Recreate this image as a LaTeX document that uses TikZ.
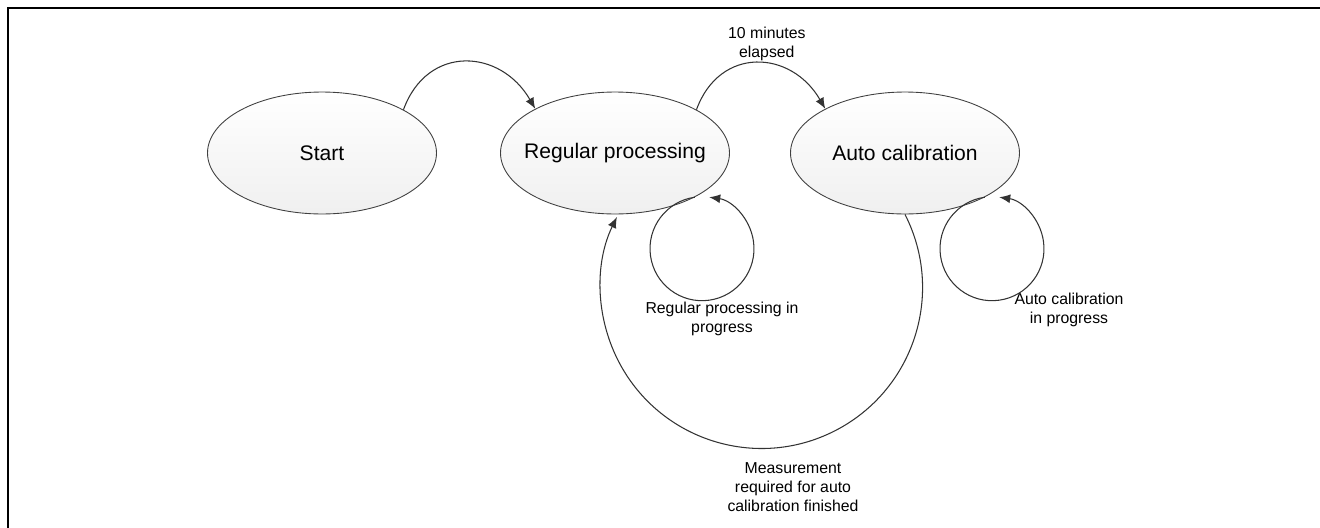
\documentclass[tikz,border=0pt]{standalone}
\usepackage{fontspec}
\setmainfont{Liberation Sans}
\usepackage{tikz}
\usetikzlibrary{arrows.meta,positioning,shapes.geometric}

\tikzset{
	phase/.style={ellipse,draw=black!75,line width=0.5pt,top color=white,bottom color=black!6,
		minimum width=4.58cm,minimum height=2.44cm,inner sep=0pt},
	note/.style={font=\fontsize{9}{10.8}\selectfont,align=center,inner sep=1pt},
	link/.style={draw=black!80,line width=0.6pt,-{Latex[length=2.2mm,width=1.8mm]}}
}

\begin{document}
\begin{tikzpicture}[x=0.02cm,y=0.02cm,font=\fontsize{12}{14}\selectfont]
\useasboundingbox (0,0) rectangle (1320,-528);
\draw[line width=1.1pt] (8,-528) -- (8,-8) -- (1320,-8);

\begin{scope}
	\node[phase,label=center:Start] (start) at (322,-153) {};
	\node[phase,label=center:Regular processing] (regular) at (615,-153) {};
	\node[phase,label=center:Auto calibration] (autocal) at (905,-153) {};

	\node[note] (regnote) at (722,-319) {Regular processing in\\progress};
	\node[note] (autonote) at (1069,-310) {Auto calibration\\in progress};
	\node[note] (measnote) at (793,-487) {Measurement\\required for auto\\calibration finished};
\end{scope}

\begin{scope}
	\draw[link] (start.28) to[out=70,in=120,looseness=1.35] (regular.151);
	\draw[link] (regular.28) to[out=70,in=120,looseness=1.35]
		node[note,above,xshift=0.2cm] {10 minutes\\elapsed} (autocal.151);
	\draw[link] (regular.-29) arc[start angle=98,end angle=442,radius=1.04cm];
	\draw[link] (autocal.-29) arc[start angle=98,end angle=442,radius=1.04cm];
	\draw[link] (autocal.south) arc[start angle=27,end angle=-206,radius=3.22cm];
\end{scope}
\end{tikzpicture}
\end{document}
